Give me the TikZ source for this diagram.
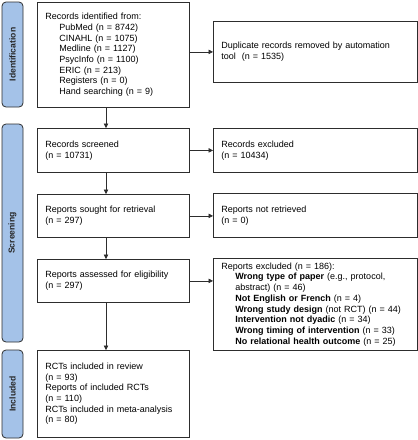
\documentclass[tikz,border=0pt]{standalone}
\usepackage{fontspec}
\setmainfont{Liberation Sans}
\usetikzlibrary{arrows.meta}
\definecolor{phaseblue}{RGB}{164,194,232}
\definecolor{edge}{RGB}{45,45,45}
\begin{document}
\begin{tikzpicture}[x=1pt,y=-1pt,
  box/.style={draw=edge, line width=0.8pt, fill=white, inner xsep=8pt, inner ysep=2pt,
    align=left, anchor=north west, font=\fontsize{9}{10.7}\selectfont},
  phase/.style={draw=edge, line width=0.8pt, fill=phaseblue, rounded corners=4pt},
  phaselabel/.style={rotate=90, font=\fontsize{8.6}{10}\selectfont\bfseries, text=black!85},
  arr/.style={-{Triangle[length=4.5pt,width=4.5pt]}, draw=edge, line width=0.6pt}]
\useasboundingbox (0,0) rectangle (418,440);
% phase bars
\draw[phase] (2,2) rectangle (23,107);
\draw[phase] (2,124) rectangle (23,342);
\draw[phase] (2,350) rectangle (23,438);
\node[phaselabel] (pid) at (12.5,54.5) {Identification};
\node[phaselabel] (psc) at (12.5,233) {Screening};
\node[phaselabel] (pin) at (12.5,394) {Included};
% left boxes
\node[box, text width=136pt, minimum height=105pt] (b1) at (37,2)
  {Records identified from:\\
   \hspace*{14pt}PubMed (n = 8742)\\
   \hspace*{14pt}CINAHL (n = 1075)\\
   \hspace*{14pt}Medline (n = 1127)\\
   \hspace*{14pt}PsycInfo (n = 1100)\\
   \hspace*{14pt}ERIC (n = 213)\\
   \hspace*{14pt}Registers (n = 0)\\
   \hspace*{14pt}Hand searching (n = 9)};
\node[box, text width=136pt, minimum height=44pt] (b2) at (37,128)
  {Records screened\\(n = 10731)};
\node[box, text width=136pt, minimum height=43pt] (b3) at (37,194)
  {Reports sought for retrieval\\(n = 297)};
\node[box, text width=136pt, minimum height=43pt] (b4) at (37,259)
  {Reports assessed for eligibility\\(n = 297)};
\node[box, text width=136pt, minimum height=87pt] (b5) at (37,350)
  {RCTs included in review\\(n = 93)\\Reports of included RCTs\\(n = 110)\\RCTs included in meta-analysis\\(n = 80)};
% right boxes
\node[box, text width=188pt, minimum height=61pt] (r1) at (213,21)
  {Duplicate records removed by automation\\tool\ \ (n = 1535)};
\node[box, text width=188pt, minimum height=44pt] (r2) at (213,128)
  {Records excluded\\(n = 10434)};
\node[box, text width=188pt, minimum height=44pt] (r3) at (213,193)
  {Reports not retrieved\\(n = 0)};
\node[box, text width=188pt, minimum height=92pt] (r4) at (213,258)
  {Reports excluded (n = 186):\\
   \hspace*{14pt}\textbf{Wrong type of paper} (e.g., protocol,\\
   \hspace*{14pt}abstract) (n = 46)\\
   \hspace*{14pt}\textbf{Not English or French} (n = 4)\\
   \hspace*{14pt}\textbf{Wrong study design} (not RCT) (n = 44)\\
   \hspace*{14pt}\textbf{Intervention not dyadic} (n = 34)\\
   \hspace*{14pt}\textbf{Wrong timing of intervention} (n = 33)\\
   \hspace*{14pt}\textbf{No relational health outcome} (n = 25)};
% arrows
\coordinate (vx) at (106,0);
\draw[arr] (b1.south -| vx) -- (b2.north -| vx);
\draw[arr] (b2.south -| vx) -- (b3.north -| vx);
\draw[arr] (b3.south -| vx) -- (b4.north -| vx);
\draw[arr] (b4.south -| vx) -- (b5.north -| vx);
\draw[arr] (r1.west -| b1.east) -- (r1.west);
\draw[arr] (b2.east) -- (b2.east -| r2.west);
\draw[arr] (b3.east) -- (b3.east -| r3.west);
\draw[arr] (b4.east) -- (b4.east -| r4.west);
\end{tikzpicture}
\end{document}
